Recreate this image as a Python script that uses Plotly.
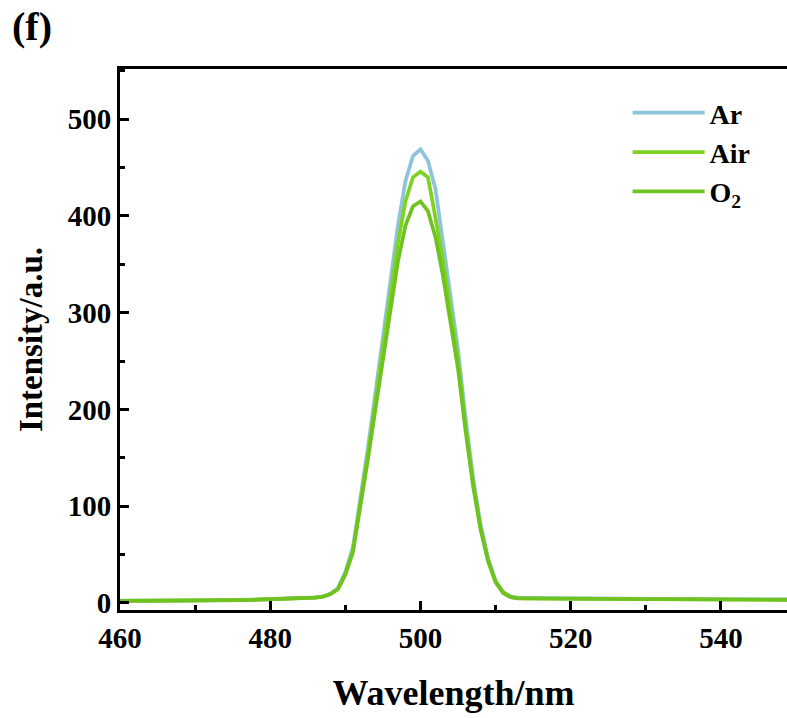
import plotly.graph_objects as go

wavelength = list(range(460, 550))

ar = [2.2, 2.1, 2.1, 2.0, 2.0, 2.1, 2.1, 2.0, 2.1, 2.2,
      2.3, 2.3, 2.4, 2.5, 2.6, 2.7, 2.9, 3.0, 3.2, 3.4,
      3.6, 3.8, 4.0, 4.3, 4.6, 5.0, 5.5, 6.5, 9, 15,
      32, 57, 107, 160, 217, 273, 333, 390, 436, 462,
      469, 457, 428, 374, 318, 262, 192, 130, 81, 46,
      23, 11, 6.5, 5.2, 5.0, 4.9, 4.8, 4.8, 4.7, 4.6,
      4.6, 4.5, 4.5, 4.4, 4.4, 4.3, 4.4, 4.3, 4.2, 4.2,
      4.2, 4.1, 4.1, 4.0, 4.0, 4.0, 3.9, 3.9, 3.9, 3.8,
      3.8, 3.8, 3.7, 3.7, 3.7, 3.6, 3.6, 3.6, 3.5, 3.5]

air = [2.0, 2.0, 1.9, 1.9, 1.9, 2.0, 2.0, 1.9, 2.0, 2.1,
       2.2, 2.2, 2.3, 2.4, 2.5, 2.6, 2.8, 2.9, 3.1, 3.3,
       3.5, 3.7, 3.9, 4.2, 4.5, 4.9, 5.4, 6.3, 9, 14,
       30, 54, 102, 153, 208, 261, 318, 372, 415, 440,
       446, 440, 398, 354, 302, 251, 183, 124, 78, 44,
       22, 11, 6.0, 4.8, 4.6, 4.5, 4.4, 4.4, 4.3, 4.3,
       4.2, 4.2, 4.1, 4.1, 4.0, 4.0, 4.0, 3.9, 3.9, 3.9,
       3.8, 3.8, 3.8, 3.7, 3.7, 3.7, 3.6, 3.6, 3.6, 3.5,
       3.5, 3.5, 3.4, 3.4, 3.4, 3.3, 3.3, 3.3, 3.2, 3.2]

o2 = [1.9, 1.9, 1.8, 1.8, 1.8, 1.9, 1.9, 1.8, 1.9, 2.0,
      2.1, 2.1, 2.2, 2.3, 2.4, 2.5, 2.7, 2.8, 3.0, 3.2,
      3.4, 3.6, 3.8, 4.1, 4.4, 4.8, 5.3, 6.2, 9, 14,
      29, 52, 98, 148, 200, 252, 305, 353, 390, 410,
      415, 405, 378, 338, 290, 242, 178, 121, 76, 43,
      21, 10, 5.8, 4.6, 4.4, 4.3, 4.2, 4.2, 4.1, 4.1,
      4.0, 4.0, 3.9, 3.9, 3.8, 3.8, 3.8, 3.7, 3.7, 3.7,
      3.6, 3.6, 3.6, 3.5, 3.5, 3.5, 3.4, 3.4, 3.4, 3.3,
      3.3, 3.3, 3.2, 3.2, 3.2, 3.1, 3.1, 3.1, 3.0, 3.0]

series_names = ["Ar", "Air", "O<sub>2</sub>"]
series_colors = ["#8EC4DA", "#7ED321", "#70C220"]

x_ticks = [460, 480, 500, 520, 540]
y_ticks = [0, 100, 200, 300, 400, 500]

FONT = "Liberation Serif"

fig = go.Figure()
for name, vals, col in zip(series_names, [ar, air, o2], series_colors):
    fig.add_trace(go.Scatter(x=wavelength, y=vals, mode="lines", name=name,
                             line=dict(color=col, width=3.7)))

axis_common = dict(
    showgrid=False, zeroline=False, showline=True, linecolor="black", linewidth=3,
    ticks="inside", ticklen=9, tickwidth=3, tickcolor="black",
    tickfont=dict(family=FONT, size=29, color="black", weight="bold"),
)

fig.update_layout(
    width=787, height=718,
    margin=dict(l=120, r=0, t=69, b=108),
    paper_bgcolor="white", plot_bgcolor="white",
    font=dict(family=FONT, color="black"),
    xaxis=dict(range=[460, 548.8], tickvals=x_ticks, mirror=True,
               minor=dict(ticks="inside", ticklen=5, tickwidth=3, tickcolor="black", dtick=10),
               title=dict(text="Wavelength/nm", standoff=28,
                          font=dict(family=FONT, size=36, color="black", weight="bold")),
               **axis_common),
    yaxis=dict(range=[-7.5, 552], tickvals=y_ticks,
               minor=dict(ticks="inside", ticklen=5, tickwidth=3, tickcolor="black", dtick=50),
               title=dict(text="Intensity/a.u.", standoff=16,
                          font=dict(family=FONT, size=33, color="black", weight="bold")),
               **axis_common),
    legend=dict(x=0.761, y=0.965, xanchor="left", yanchor="top",
                bgcolor="rgba(0,0,0,0)", borderwidth=0, tracegroupgap=0,
                font=dict(family=FONT, size=28, color="black", weight="bold"),
                itemwidth=72),
    showlegend=True,
)

fig.add_annotation(text="(f)", xref="paper", yref="paper", x=-0.165, y=1.0,
                   xanchor="left", yanchor="bottom", yshift=18, showarrow=False,
                   font=dict(family=FONT, size=40, color="black", weight="bold"))

fig.write_html("out.html", config={"displayModeBar": False},
               post_script="document.body.style.margin='0';")
